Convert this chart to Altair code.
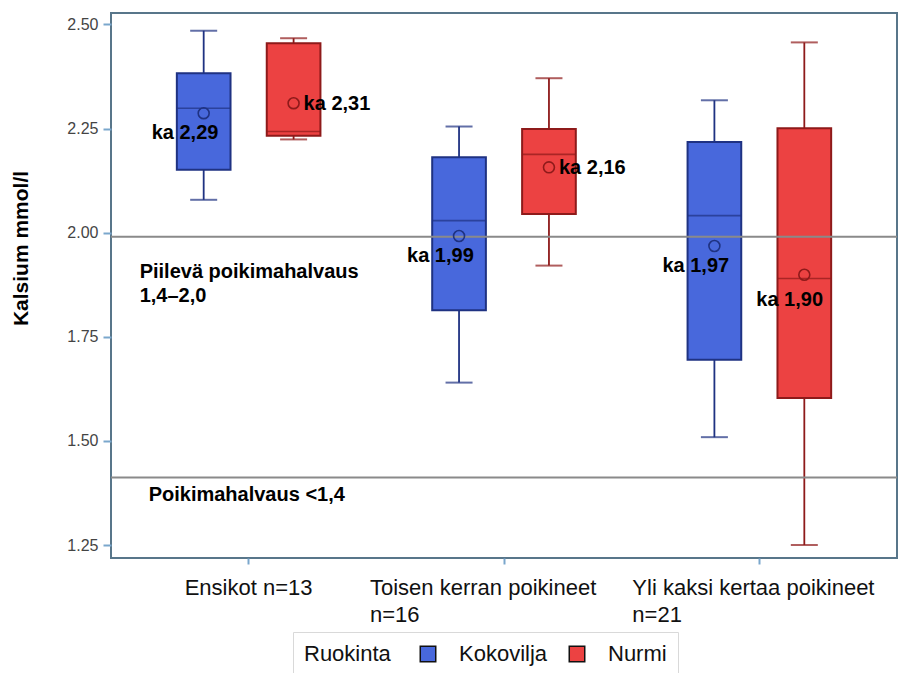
import altair as alt
import pandas as pd

# ---------------- data ----------------
categories = ["Ensikot n=13", "Toisen kerran poikineet\nn=16", "Yli kaksi kertaa poikineet\nn=21"]
groups = ["Kokovilja", "Nurmi"]

box_cat = [categories[0], categories[0], categories[1], categories[1], categories[2], categories[2]]
box_group = ["Kokovilja", "Nurmi", "Kokovilja", "Nurmi", "Kokovilja", "Nurmi"]
whisker_low = [2.079, 2.224, 1.640, 1.921, 1.509, 1.250]
q1 = [2.151, 2.233, 1.814, 2.045, 1.695, 1.603]
median = [2.299, 2.243, 2.029, 2.188, 2.041, 1.890]
q3 = [2.383, 2.455, 2.181, 2.249, 2.218, 2.251]
whisker_high = [2.485, 2.467, 2.255, 2.371, 2.318, 2.457]
mean = [2.287, 2.311, 1.992, 2.157, 1.968, 1.899]
mean_text = ["ka 2,29", "ka 2,31", "ka 1,99", "ka 2,16", "ka 1,97", "ka 1,90"]
mean_pos = ["below", "right", "below", "right", "below", "below2"]

ref_values = [1.99, 1.412]

annot_text = ["Piilevä poikimahalvaus", "1,4–2,0", "Poikimahalvaus <1,4"]
annot_y = [1.906, 1.848, 1.370]
annot_cat = [categories[0], categories[0], categories[0]]
annot_grp = ["a", "a", "b"]

y_ticks = [1.25, 1.50, 1.75, 2.00, 2.25, 2.50]

fill_colors = ["#4868dc", "#ec4242"]
dark_colors = ["#1f3282", "#8e1a1a"]

FONT = "Liberation Sans"

df = pd.DataFrame({
    "cat": box_cat, "grp": box_group, "lo": whisker_low, "q1": q1,
    "med": median, "q3": q3, "hi": whisker_high, "mean": mean,
    "txt": mean_text, "pos": mean_pos,
})
ref_df = pd.DataFrame({"v": ref_values})
annot_df = pd.DataFrame({"cat": annot_cat, "y": annot_y, "txt": annot_text, "g": annot_grp})

# ---------------- encodings ----------------
y_scale = alt.Scale(domain=[1.2188, 2.5276], nice=False, zero=False)
y_axis = alt.Axis(values=y_ticks, format=".2f", domain=False, grid=False,
                  tickSize=8, tickColor="#7aa7cc", tickWidth=2,
                  labelFontSize=16, labelColor="#444444", labelPadding=5,
                  titleFontSize=21, titleFontWeight="bold", titleColor="#000000",
                  titlePadding=35, titleY=235)

x_enc = alt.X(
    "cat:N",
    sort=categories,
    scale=alt.Scale(domain=categories, paddingInner=0, paddingOuter=0.039),
    title=None,
    axis=alt.Axis(
        labelExpr="split(datum.label, '\\n')",
        labelAngle=0,
        labelAlign="left",
        labelBaseline="top",
        labelFontSize=22,
        labelColor="#111111",
        labelLineHeight=27,
        labelPadding=13,
        labelLimit=0,
        labelOffset={
            "condition": [
                {"test": "datum.value == 'Ensikot n=13'", "value": -64},
                {"test": "indexof(datum.value, 'Toisen') == 0", "value": -134},
            ],
            "value": -127,
        },
        domain=False,
        ticks=True,
        tickSize=6,
        tickColor="#7aa7cc",
        tickWidth=2,
        grid=False,
    ),
)
xoff = alt.XOffset("grp:N", sort=groups,
                   scale=alt.Scale(domain=groups, paddingInner=0.403, paddingOuter=0.6215))


def y_enc(field):
    return alt.Y(field, scale=y_scale, title="Kalsium mmol/l", axis=y_axis)


is_blue = alt.datum.grp == "Kokovilja"
dark_stroke = alt.condition(is_blue, alt.value(dark_colors[0]), alt.value(dark_colors[1]))

base = alt.Chart(df)

whiskers = base.mark_rule(strokeWidth=1.8).encode(
    x=x_enc, xOffset=xoff, y=y_enc("lo:Q"), y2="hi:Q", stroke=dark_stroke)

cap_lo = base.mark_tick(size=27, thickness=2).encode(
    x=x_enc, xOffset=xoff, y=y_enc("lo:Q"), color=dark_stroke)
cap_hi = base.mark_tick(size=27, thickness=2).encode(
    x=x_enc, xOffset=xoff, y=y_enc("hi:Q"), color=dark_stroke)

boxes = base.mark_bar(strokeWidth=2, opacity=1).encode(
    x=x_enc, xOffset=xoff, y=y_enc("q1:Q"), y2="q3:Q",
    fill=alt.Fill("grp:N", scale=alt.Scale(domain=groups, range=fill_colors),
                  legend=alt.Legend(
                      title="Ruokinta", orient="none", legendX=182, legendY=619,
                      direction="horizontal", titleOrient="left",
                      titleFontSize=22, titleFontWeight="normal", titleColor="#111111",
                      titlePadding=26, titleBaseline="middle",
                      labelFontSize=22, labelColor="#111111", labelOffset=20,
                      symbolType="square", symbolSize=240, symbolStrokeColor="#111111",
                      symbolStrokeWidth=1.5, symbolOpacity=1, columnPadding=18,
                      padding=11, strokeColor="#d9d9d9", fillColor="#ffffff",
                  )),
    stroke=dark_stroke)

medians = base.mark_tick(size=54, thickness=1.6).encode(
    x=x_enc, xOffset=xoff, y=y_enc("med:Q"), color=dark_stroke)

refs = alt.Chart(ref_df).mark_rule(color="#8a8a8a", strokeWidth=2).encode(y=y_enc("v:Q"))

means = base.mark_point(shape="circle", filled=False, size=120, strokeWidth=1.6, opacity=1).encode(
    x=x_enc, xOffset=xoff, y=y_enc("mean:Q"), stroke=dark_stroke)

label_style = dict(align="left", baseline="middle", fontSize=20, fontWeight="bold", color="#000000")
lab_below = base.transform_filter(alt.datum.pos == "below").mark_text(dx=-52, dy=20, **label_style).encode(
    x=x_enc, xOffset=xoff, y=y_enc("mean:Q"), text="txt:N")
lab_right = base.transform_filter(alt.datum.pos == "right").mark_text(dx=10, dy=1, **label_style).encode(
    x=x_enc, xOffset=xoff, y=y_enc("mean:Q"), text="txt:N")
lab_below2 = base.transform_filter(alt.datum.pos == "below2").mark_text(dx=-48, dy=25, **label_style).encode(
    x=x_enc, xOffset=xoff, y=y_enc("mean:Q"), text="txt:N")

annot_a = alt.Chart(annot_df).transform_filter(alt.datum.g == "a").mark_text(
    dx=-109, **label_style).encode(x=x_enc, y=y_enc("y:Q"), text="txt:N")
annot_b = alt.Chart(annot_df).transform_filter(alt.datum.g == "b").mark_text(
    dx=-100, **label_style).encode(x=x_enc, y=y_enc("y:Q"), text="txt:N")

chart = alt.layer(
    whiskers, cap_lo, cap_hi, boxes, medians, refs, means,
    lab_below, lab_right, lab_below2, annot_a, annot_b,
).properties(
    width=786, height=545,
    padding={"left": 103, "top": 5, "right": 2, "bottom": 125},
    autosize=alt.AutoSizeParams(type="none"),
    background="#ffffff",
).configure(
    font=FONT,
).configure_view(
    stroke="#58768a", strokeWidth=2,
)

chart.save("out.html", embed_options={"renderer": "svg", "actions": False})
